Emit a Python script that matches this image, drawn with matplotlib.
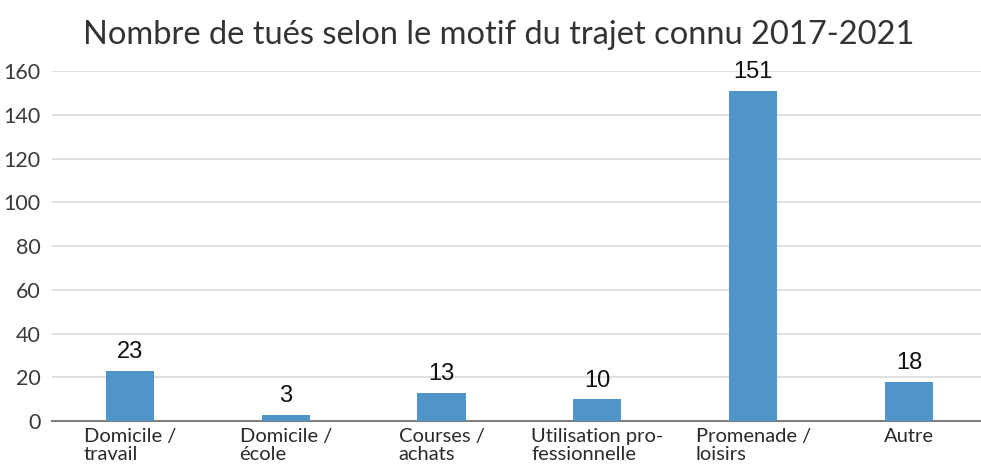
import matplotlib
matplotlib.use("Agg")
import matplotlib.pyplot as plt

categories = ["Domicile /\ntravail", "Domicile /\nécole", "Courses /\nachats",
              "Utilisation pro-\nfessionnelle", "Promenade /\nloisirs", "Autre"]
values = [23, 3, 13, 10, 151, 18]
yticks = [0, 20, 40, 60, 80, 100, 120, 140, 160]
title = "Nombre de tués selon le motif du trajet connu 2017-2021"

plt.rcParams['font.family'] = ['Lato', 'DejaVu Sans']
fig = plt.figure(figsize=(9.81, 4.70), dpi=100)
ax = fig.add_axes([0.053, 0.104, 0.953, 0.745])
x = list(range(len(values)))
ax.bar(x, values, width=0.31, color="#4f95c7", zorder=3)
ax.set_xlim(-0.5, len(values) - 0.5)
ax.set_ylim(0, 160)
ax.set_yticks(yticks)
ax.set_yticklabels([str(t) for t in yticks], fontsize=15.5, color="#3a3a3a")
ax.set_xticks(x)
ax.set_xticklabels(categories, fontsize=14.5, color="#2a2a2a", multialignment='left',
                   linespacing=1.05)
ax.tick_params(axis='y', length=0, pad=8)
ax.tick_params(axis='x', length=0, pad=5)
ax.grid(axis='y', color="#d9d9d9", linewidth=1.2, zorder=0)
for s in ["top", "right", "left"]:
    ax.spines[s].set_visible(False)
ax.spines["bottom"].set_color("#7f7f7f")
ax.spines["bottom"].set_linewidth(1.5)
for xi, v in zip(x, values):
    ax.text(xi, v + 3.5, str(v), ha='center', va='bottom', fontsize=17,
            family=['Liberation Sans', 'DejaVu Sans'], color="#111111")
fig.text(0.508, 0.925, title, ha='center', va='center', fontsize=23.5, color="#333333")
fig.savefig("out.png", dpi=100)
